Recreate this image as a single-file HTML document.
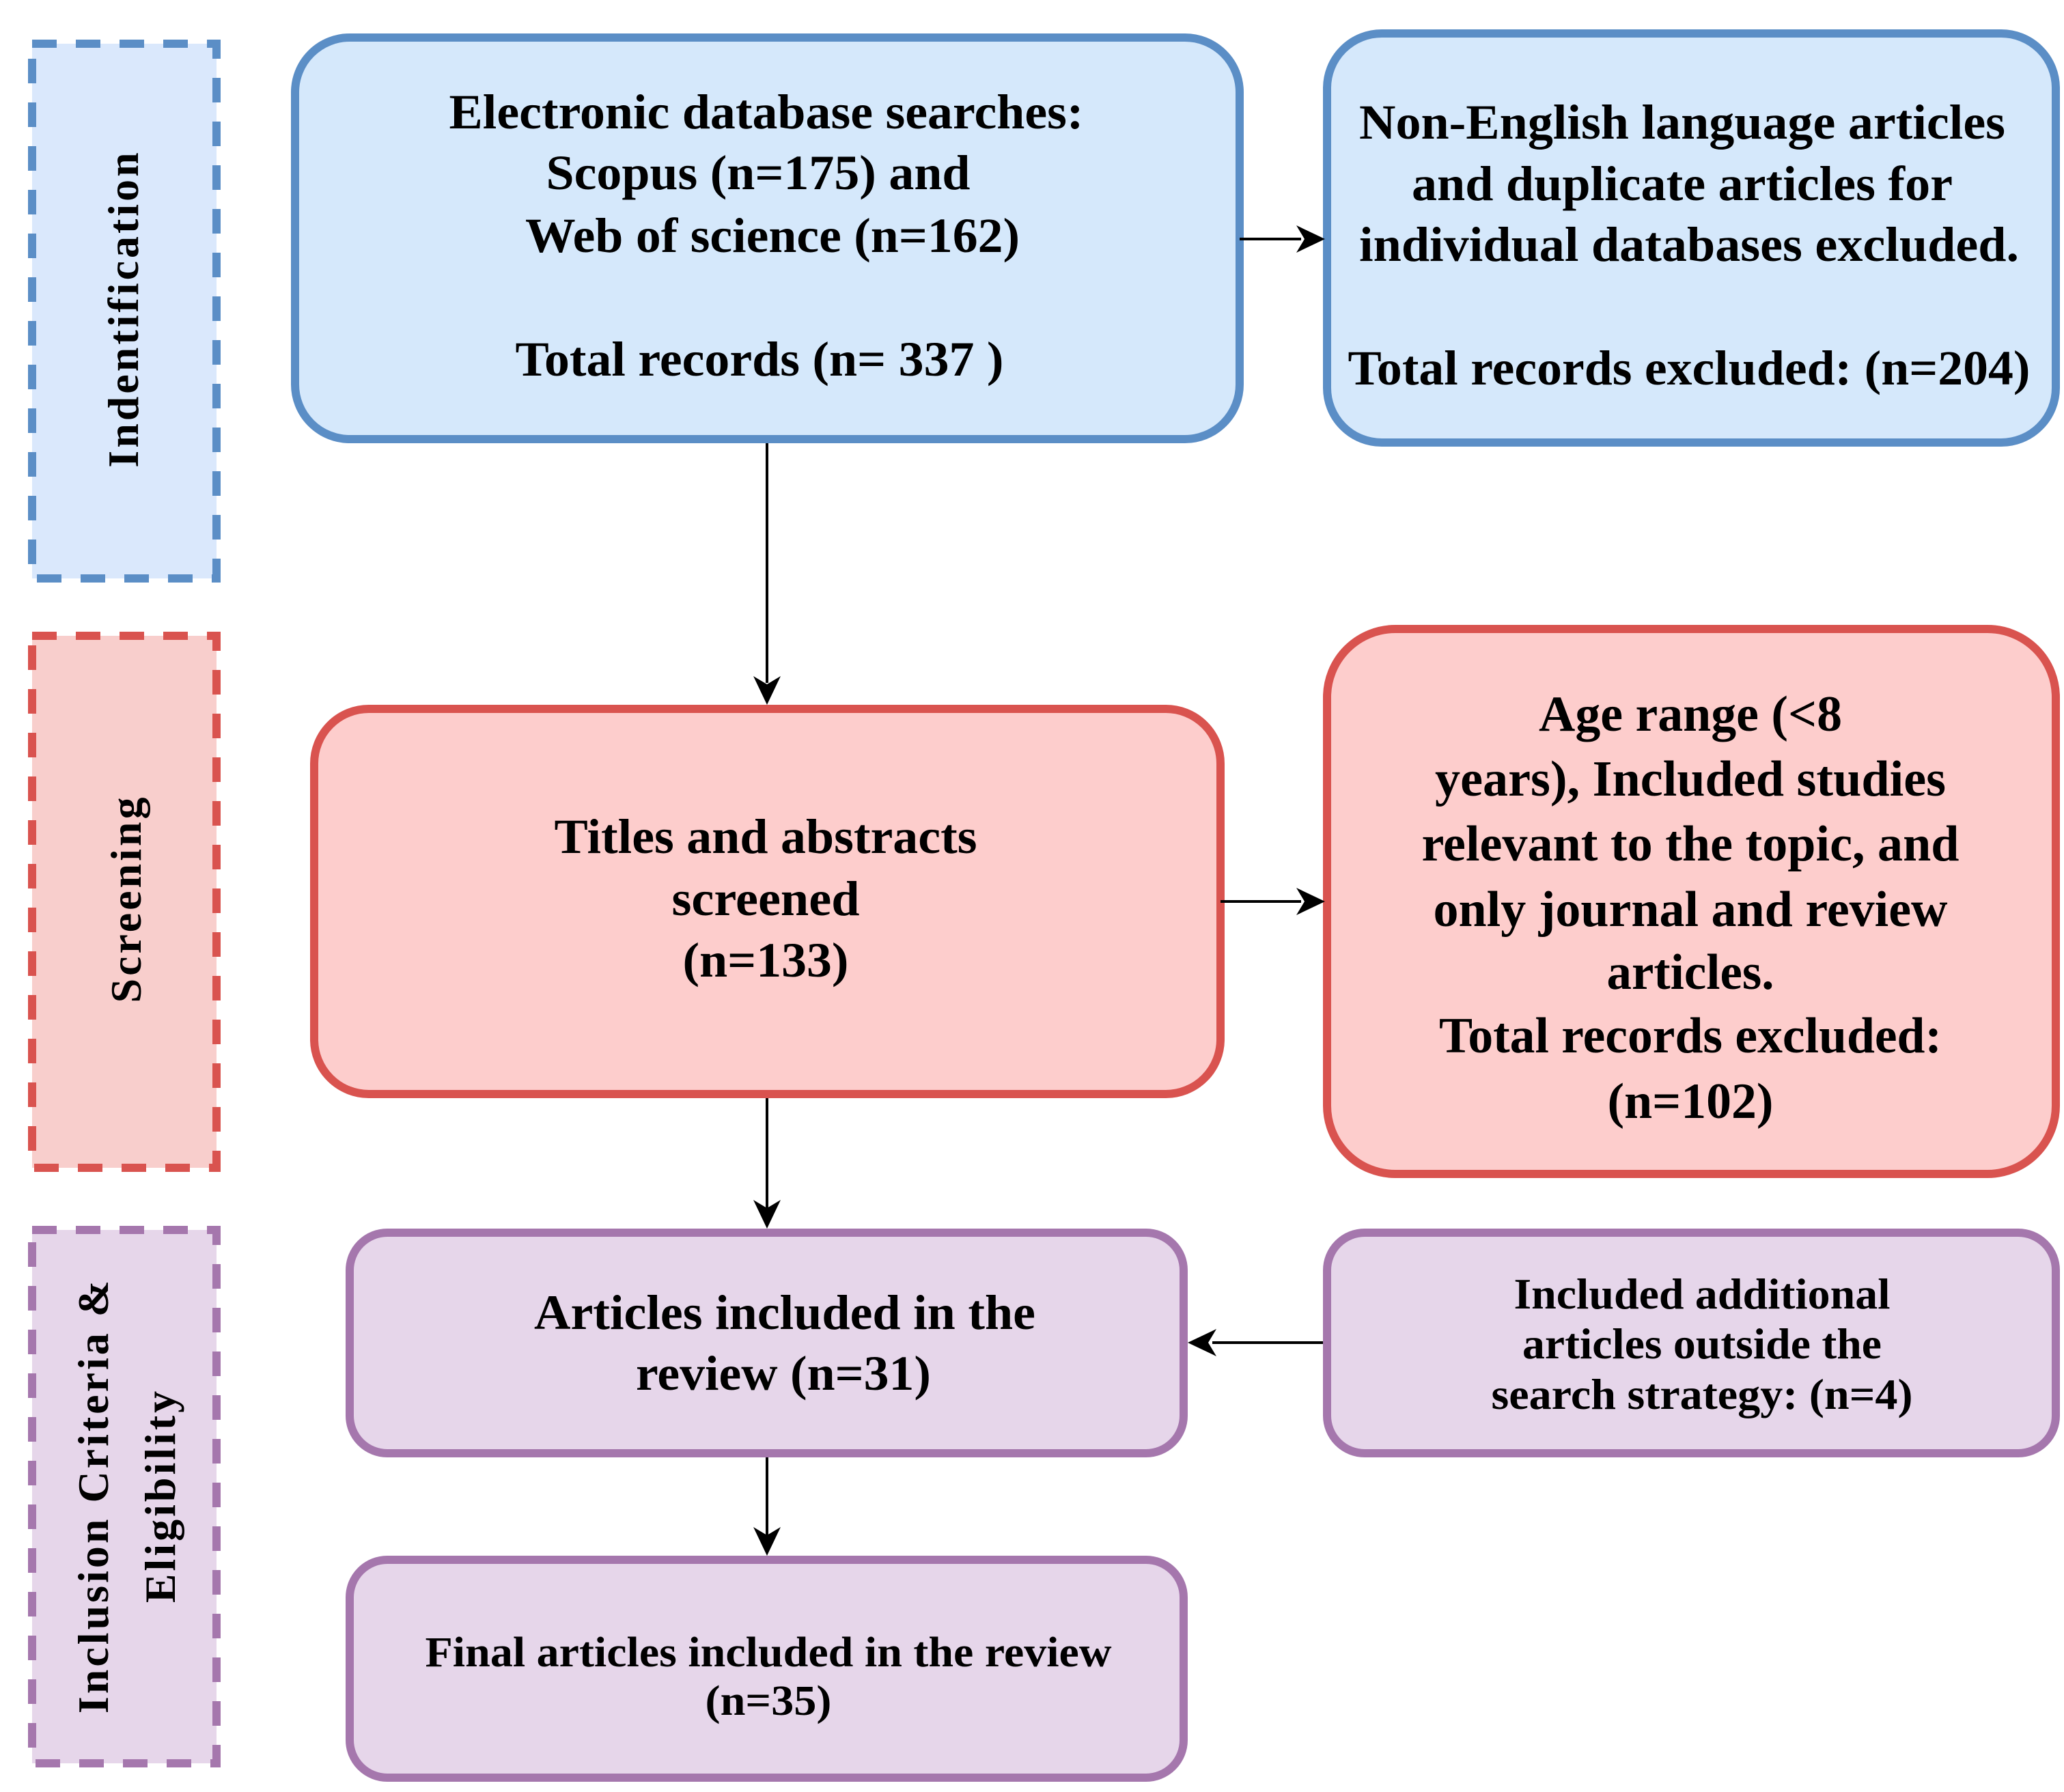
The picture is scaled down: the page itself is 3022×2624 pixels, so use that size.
<!DOCTYPE html>
<html><head><meta charset="utf-8"><style>
html,body{margin:0;padding:0;background:#fff}
svg{display:block}
text{font-family:"Liberation Serif",serif;font-weight:bold;fill:#000}
</style></head><body>
<svg width="3022" height="2624" viewBox="0 0 3022 2624" xmlns="http://www.w3.org/2000/svg">
<!-- side dashed panels -->
<rect x="47" y="64" width="270" height="783" fill="#dae8fc" stroke="#5b8ec6" stroke-width="12" stroke-dasharray="36,28"/>
<rect x="47" y="931" width="270" height="779" fill="#f8cecc" stroke="#d9534f" stroke-width="12" stroke-dasharray="36,28"/>
<rect x="47" y="1801" width="270" height="781" fill="#e6d6ea" stroke="#a577ad" stroke-width="12" stroke-dasharray="36,28"/>
<text transform="translate(202,452) rotate(-90)" text-anchor="middle" font-size="64" letter-spacing="4">Indentification</text>
<text transform="translate(206,1316) rotate(-90)" text-anchor="middle" font-size="64" letter-spacing="4">Screening</text>
<text transform="translate(158,2190) rotate(-90)" text-anchor="middle" font-size="64" letter-spacing="4">Inclusion Criteria &amp;</text>
<text transform="translate(256,2190) rotate(-90)" text-anchor="middle" font-size="64" letter-spacing="4">Eligibility</text>

<!-- boxes -->
<rect x="432" y="55" width="1383" height="588" rx="80" fill="#d5e8fb" stroke="#5b8ec6" stroke-width="12"/>
<rect x="1943" y="49" width="1067" height="599" rx="80" fill="#d5e8fb" stroke="#5b8ec6" stroke-width="12"/>
<rect x="460" y="1038" width="1327" height="564" rx="80" fill="#fdcdcc" stroke="#d9534f" stroke-width="12"/>
<rect x="1943" y="921" width="1067" height="798" rx="100" fill="#fdcdcc" stroke="#d9534f" stroke-width="12"/>
<rect x="512" y="1805" width="1221" height="323" rx="55" fill="#e6d6ea" stroke="#a577ad" stroke-width="12"/>
<rect x="1943" y="1805" width="1067" height="323" rx="55" fill="#e6d6ea" stroke="#a577ad" stroke-width="12"/>
<rect x="512" y="2284" width="1221" height="319" rx="55" fill="#e6d6ea" stroke="#a577ad" stroke-width="12"/>

<!-- connectors -->
<g stroke="#000" stroke-width="4" fill="none">
<line x1="1123" y1="649" x2="1123" y2="1000"/>
<line x1="1123" y1="1608" x2="1123" y2="1770"/>
<line x1="1123" y1="2134" x2="1123" y2="2250"/>
<line x1="1815" y1="350" x2="1905" y2="350"/>
<line x1="1787" y1="1320" x2="1905" y2="1320"/>
<line x1="1937" y1="1966" x2="1775" y2="1966"/>
</g>
<g fill="#000">
<path d="M1123 1032 L1103 990 L1123 1002 L1143 990 Z"/>
<path d="M1123 1799 L1103 1757 L1123 1769 L1143 1757 Z"/>
<path d="M1123 2278 L1103 2236 L1123 2248 L1143 2236 Z"/>
<path d="M1940 350 L1898 330 L1910 350 L1898 370 Z"/>
<path d="M1940 1320 L1898 1300 L1910 1320 L1898 1340 Z"/>
<path d="M1739 1966 L1781 1946 L1769 1966 L1781 1986 Z"/>
</g>

<!-- texts -->
<g text-anchor="middle" font-size="72" lengthAdjust="spacingAndGlyphs">
<text x="1122" y="188" textLength="929" lengthAdjust="spacingAndGlyphs">Electronic database searches:</text>
<text x="1110" y="277" textLength="621" lengthAdjust="spacingAndGlyphs">Scopus (n=175) and</text>
<text x="1131" y="369" textLength="724" lengthAdjust="spacingAndGlyphs">Web of science (n=162)</text>
<text x="1112" y="550" textLength="715" lengthAdjust="spacingAndGlyphs">Total records (n= 337 )</text>

<text x="2463" y="203" textLength="946" lengthAdjust="spacingAndGlyphs">Non-English language articles</text>
<text x="2463" y="293" textLength="792" lengthAdjust="spacingAndGlyphs">and duplicate articles for</text>
<text x="2473" y="382" textLength="966" lengthAdjust="spacingAndGlyphs">individual databases excluded.</text>
<text x="2473" y="563" textLength="999" lengthAdjust="spacingAndGlyphs">Total records excluded: (n=204)</text>

<text x="1121" y="1249" textLength="619" lengthAdjust="spacingAndGlyphs">Titles and abstracts</text>
<text x="1121" y="1340" textLength="275" lengthAdjust="spacingAndGlyphs">screened</text>
<text x="1121" y="1430" textLength="243" lengthAdjust="spacingAndGlyphs">(n=133)</text>
</g>
<g text-anchor="middle" font-size="74">
<text x="2475" y="1070" textLength="444" lengthAdjust="spacingAndGlyphs">Age range (&lt;8</text>
<text x="2475" y="1165" textLength="748" lengthAdjust="spacingAndGlyphs">years), Included studies</text>
<text x="2475" y="1260" textLength="787" lengthAdjust="spacingAndGlyphs">relevant to the topic, and</text>
<text x="2475" y="1356" textLength="753" lengthAdjust="spacingAndGlyphs">only journal and review</text>
<text x="2475" y="1448" textLength="245" lengthAdjust="spacingAndGlyphs">articles.</text>
<text x="2475" y="1541" textLength="736" lengthAdjust="spacingAndGlyphs">Total records excluded:</text>
<text x="2475" y="1637" textLength="243" lengthAdjust="spacingAndGlyphs">(n=102)</text>
</g>
<g text-anchor="middle" font-size="72">
<text x="1149" y="1946" textLength="734" lengthAdjust="spacingAndGlyphs">Articles included in the</text>
<text x="1147" y="2035" textLength="432" lengthAdjust="spacingAndGlyphs">review (n=31)</text>
</g>
<g text-anchor="middle" font-size="64">
<text x="2492" y="1916" textLength="551" lengthAdjust="spacingAndGlyphs">Included additional</text>
<text x="2492" y="1989" textLength="526" lengthAdjust="spacingAndGlyphs">articles outside the</text>
<text x="2492" y="2063" textLength="617" lengthAdjust="spacingAndGlyphs">search strategy: (n=4)</text>
</g>
<g text-anchor="middle" font-size="62">
<text x="1125" y="2440" textLength="1005" lengthAdjust="spacingAndGlyphs">Final articles included in the review</text>
<text x="1125" y="2511" textLength="185" lengthAdjust="spacingAndGlyphs">(n=35)</text>
</g>
</svg>
</body></html>
